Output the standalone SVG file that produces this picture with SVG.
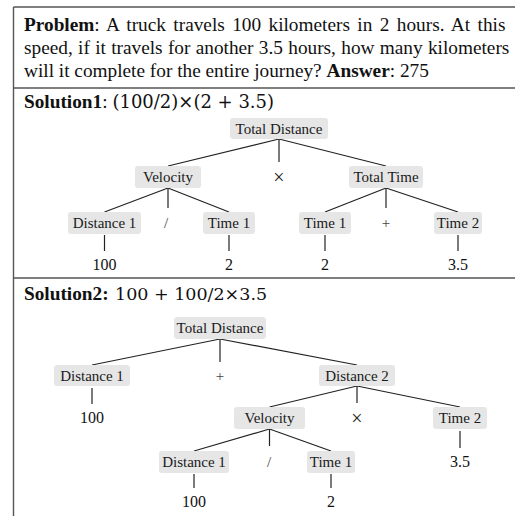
<svg xmlns="http://www.w3.org/2000/svg" width="515" height="516" viewBox="0 0 515 516">
<style>
.frame{stroke:#555;stroke-width:1.4;fill:none}
.txt{font-family:"Liberation Serif","Times New Roman",serif;font-size:19.3px;fill:#111}
.math{font-family:"DejaVu Serif",serif;font-weight:normal}
.box{fill:#e6e6e6;stroke:none}
.lbl{font-family:"Liberation Serif","Times New Roman",serif;font-size:15px;fill:#1a1a1a;text-anchor:middle}
.op{font-family:"Liberation Serif","Times New Roman",serif;font-size:15px;fill:#444;text-anchor:middle}
.mul{font-size:20px;fill:#222}
.num{font-family:"Liberation Serif","Times New Roman",serif;font-size:16px;fill:#111;text-anchor:middle}
.edges line{stroke:#222;stroke-width:1.2}
</style>
<rect width="515" height="516" fill="#fff"/>
<g id="frame">
<line class="frame" x1="13.5" y1="7" x2="515" y2="7"/>
<line class="frame" x1="13.5" y1="7" x2="13.5" y2="516"/>
<line class="frame" x1="13.5" y1="88" x2="515" y2="88"/>
<line class="frame" x1="13.5" y1="278" x2="515" y2="278"/>
</g>
<g id="problem">
<text class="txt" x="24" y="31" word-spacing="2.6"><tspan font-weight="bold">Problem</tspan>: A truck travels 100 kilometers in 2 hours. At this</text>
<text class="txt" x="24" y="54" word-spacing="0.5">speed, if it travels for another 3.5 hours, how many kilometers</text>
<text class="txt" x="24" y="77">will it complete for the entire journey? <tspan font-weight="bold">Answer</tspan>: 275</text>
</g>
<g id="sol1-title">
<text class="txt" x="24" y="108"><tspan font-weight="bold">Solution1</tspan>: <tspan class="math" font-size="18">(100/2)×(2 + 3.5)</tspan></text>
</g>
<g id="sol2-title">
<text class="txt" x="24" y="300"><tspan font-weight="bold">Solution2:</tspan><tspan class="math" x="115" font-size="17.5">100 + 100/2×3.5</tspan></text>
</g>

<g class="edges" id="connectors">
<!-- solution 1 -->
<line x1="279" y1="139" x2="168" y2="166"/>
<line x1="279" y1="139" x2="279" y2="162"/>
<line x1="279" y1="139" x2="386" y2="166"/>
<line x1="168" y1="188" x2="104.5" y2="212"/>
<line x1="168" y1="188" x2="168" y2="208"/>
<line x1="168" y1="188" x2="229" y2="212"/>
<line x1="386" y1="188" x2="325" y2="212"/>
<line x1="386" y1="188" x2="386" y2="208"/>
<line x1="386" y1="188" x2="458" y2="212"/>
<line x1="104.5" y1="235" x2="104.5" y2="251"/>
<line x1="229" y1="235" x2="229" y2="251"/>
<line x1="325" y1="235" x2="325" y2="251"/>
<line x1="458" y1="235" x2="458" y2="251"/>
<!-- solution 2 -->
<line x1="220" y1="339" x2="92" y2="365"/>
<line x1="220" y1="339" x2="220" y2="362"/>
<line x1="220" y1="339" x2="357" y2="365"/>
<line x1="92" y1="388" x2="92" y2="404"/>
<line x1="357" y1="386" x2="269.5" y2="407"/>
<line x1="357" y1="386" x2="357" y2="403"/>
<line x1="357" y1="386" x2="460" y2="407"/>
<line x1="460" y1="431" x2="460" y2="448"/>
<line x1="269.5" y1="429" x2="194" y2="451"/>
<line x1="269.5" y1="429" x2="269.5" y2="446"/>
<line x1="269.5" y1="429" x2="331" y2="451"/>
<line x1="194" y1="474" x2="194" y2="488"/>
<line x1="331" y1="474" x2="331" y2="488"/>
</g>

<!-- Solution 1 nodes -->
<g id="s1-total-distance"><rect class="box" x="230" y="118" width="98" height="21" rx="3"/><text class="lbl" x="279" y="133.5">Total Distance</text></g>
<g id="s1-velocity"><rect class="box" x="135" y="166" width="66" height="22" rx="3"/><text class="lbl" x="168" y="182">Velocity</text></g>
<g id="s1-op-mul"><text class="op mul" x="279" y="184">×</text></g>
<g id="s1-total-time"><rect class="box" x="349" y="166" width="74" height="22" rx="3"/><text class="lbl" x="386" y="182">Total Time</text></g>
<g id="s1-distance1"><rect class="box" x="68" y="212" width="73" height="22" rx="3"/><text class="lbl" x="104.5" y="228">Distance 1</text></g>
<g id="s1-op-div"><text class="op" x="166" y="228">/</text></g>
<g id="s1-time1a"><rect class="box" x="203" y="212" width="52" height="22" rx="3"/><text class="lbl" x="229" y="228">Time 1</text></g>
<g id="s1-time1b"><rect class="box" x="299" y="212" width="52" height="22" rx="3"/><text class="lbl" x="325" y="228">Time 1</text></g>
<g id="s1-op-add"><text class="op" x="386" y="228">+</text></g>
<g id="s1-time2"><rect class="box" x="434" y="212" width="48" height="22" rx="3"/><text class="lbl" x="458" y="228">Time 2</text></g>
<g id="s1-v100"><text class="num" x="104.5" y="270">100</text></g>
<g id="s1-v2a"><text class="num" x="229" y="270">2</text></g>
<g id="s1-v2b"><text class="num" x="325" y="270">2</text></g>
<g id="s1-v35"><text class="num" x="458" y="270">3.5</text></g>

<!-- Solution 2 nodes -->
<g id="s2-total-distance"><rect class="box" x="174" y="317" width="92" height="22" rx="3"/><text class="lbl" x="220" y="333">Total Distance</text></g>
<g id="s2-distance1"><rect class="box" x="54" y="365" width="76" height="21" rx="3"/><text class="lbl" x="92" y="380.5">Distance 1</text></g>
<g id="s2-op-add"><text class="op" x="220" y="381">+</text></g>
<g id="s2-distance2"><rect class="box" x="319" y="365" width="76" height="21" rx="3"/><text class="lbl" x="357" y="380.5">Distance 2</text></g>
<g id="s2-v100a"><text class="num" x="92" y="423">100</text></g>
<g id="s2-velocity"><rect class="box" x="234" y="407" width="71" height="22" rx="3"/><text class="lbl" x="269.5" y="423">Velocity</text></g>
<g id="s2-op-mul"><text class="op mul" x="357" y="425">×</text></g>
<g id="s2-time2"><rect class="box" x="433" y="407" width="54" height="22" rx="3"/><text class="lbl" x="460" y="423">Time 2</text></g>
<g id="s2-v35"><text class="num" x="460" y="467">3.5</text></g>
<g id="s2-distance1b"><rect class="box" x="159" y="451" width="70" height="22" rx="3"/><text class="lbl" x="194" y="467">Distance 1</text></g>
<g id="s2-op-div"><text class="op" x="269" y="467">/</text></g>
<g id="s2-time1"><rect class="box" x="307" y="451" width="48" height="22" rx="3"/><text class="lbl" x="331" y="467">Time 1</text></g>
<g id="s2-v100b"><text class="num" x="194" y="507">100</text></g>
<g id="s2-v2"><text class="num" x="331" y="507">2</text></g>
</svg>
